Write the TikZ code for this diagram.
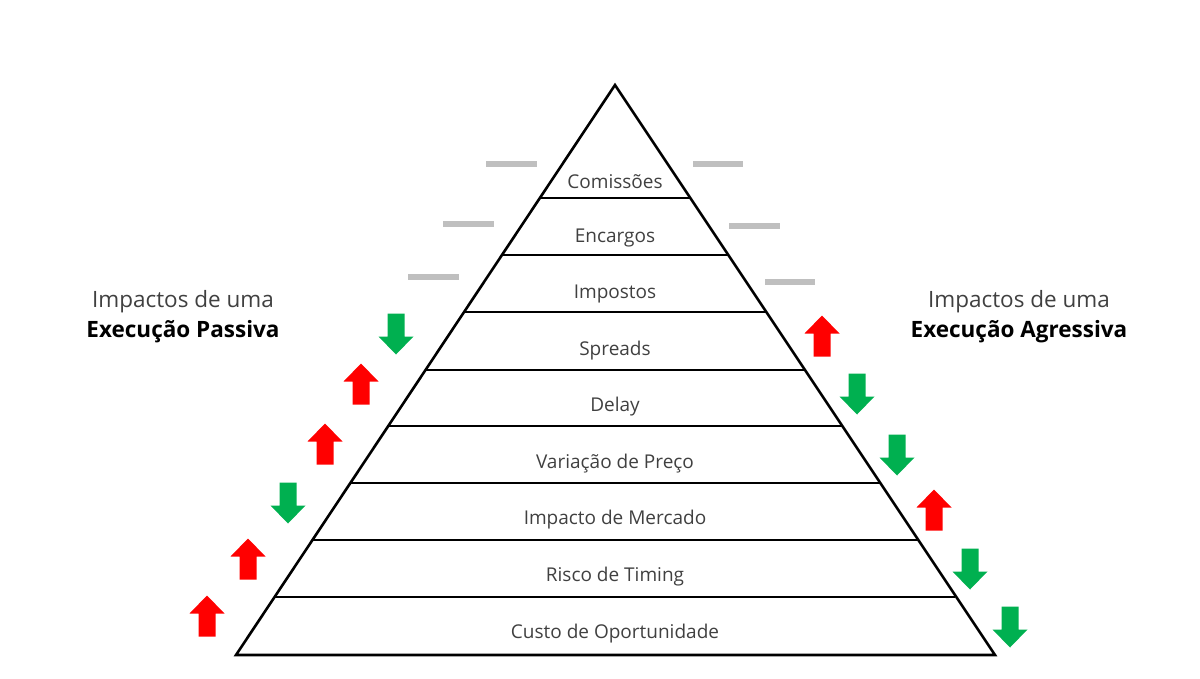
\documentclass[tikz,border=0pt]{standalone}
\usepackage{fontspec}
\setmainfont{Open Sans}
\usetikzlibrary{calc}
\definecolor{upred}{HTML}{FF0000}
\definecolor{dngreen}{HTML}{00B050}
\definecolor{dashgray}{HTML}{BFBFBF}
\definecolor{txtgray}{HTML}{404040}
\tikzset{
  uparr/.pic={\fill[upred] (-8.5,20.5) -- (-8.5,-2.5) -- (-17.5,-2.5) -- (0,-20.5) -- (17.5,-2.5) -- (8.5,-2.5) -- (8.5,20.5) -- cycle;},
  dnarr/.pic={\fill[dngreen] (-8.5,-20.5) -- (-8.5,2.5) -- (-17.5,2.5) -- (0,20.5) -- (17.5,2.5) -- (8.5,2.5) -- (8.5,-20.5) -- cycle;},
  level/.style={font=\fontsize{19}{22}\selectfont, text=txtgray},
  heading/.style={font=\fontsize{22.5}{30}\selectfont, align=center, text=txtgray},
  edge/.style={line width=2.6pt, black, line join=miter},
  graybar/.style={line width=6.5pt, dashgray},
}
\begin{document}
\begin{tikzpicture}[x=1pt,y=-1pt]
\useasboundingbox (0,0) rectangle (1200,678);
% pyramid
\coordinate (apex) at (615,85);
\coordinate (bl) at (236,655);
\coordinate (br) at (995,655);
\draw[edge] (apex) -- (bl) -- (br) -- cycle;
\foreach \yy in {198,255,312,370,426,483,540,597}{
  \draw[line width=2.4pt] ({615-0.6649*(\yy-85)},\yy) -- ({615+0.6649*(\yy-85)},\yy);
}
% labels
\node[level] (l1) at (615,182) {Comissões};
\node[level] (l2) at (615,238) {Encargos};
\node[level] (l3) at (615,294) {Impostos};
\node[level] (l4) at (615,351) {Spreads};
\node[level] (l5) at (615,407) {Delay};
\node[level] (l6) at (615,464) {Variação de Preço};
\node[level] (l7) at (615,520) {Impacto de Mercado};
\node[level] (l8) at (615,577) {Risco de Timing};
\node[level] (l9) at (615,634) {Custo de Oportunidade};
% gray bars
\draw[graybar] (486,164) -- (537,164);
\draw[graybar] (443,224) -- (494,224);
\draw[graybar] (408,277) -- (459,277);
\draw[graybar] (693,164) -- (743,164);
\draw[graybar] (729,226) -- (780,226);
\draw[graybar] (765,282) -- (815,282);
% headings
\node[heading] (hl) at (183,317) {Impactos de uma\\\textbf{\color{black}Execução Passiva}};
\node[heading] (hr) at (1019,317) {Impactos de uma\\\textbf{\color{black}Execução Agressiva}};
% left arrows
\pic at (396,334) {dnarr};
\pic at (361,384) {uparr};
\pic at (325,444) {uparr};
\pic at (288,503) {dnarr};
\pic at (248,559) {uparr};
\pic at (207,616) {uparr};
% right arrows
\pic at (822,336) {uparr};
\pic at (857,394) {dnarr};
\pic at (897,455) {dnarr};
\pic at (934,510) {uparr};
\pic at (970,569) {dnarr};
\pic at (1010,627) {dnarr};
\end{tikzpicture}
\end{document}
